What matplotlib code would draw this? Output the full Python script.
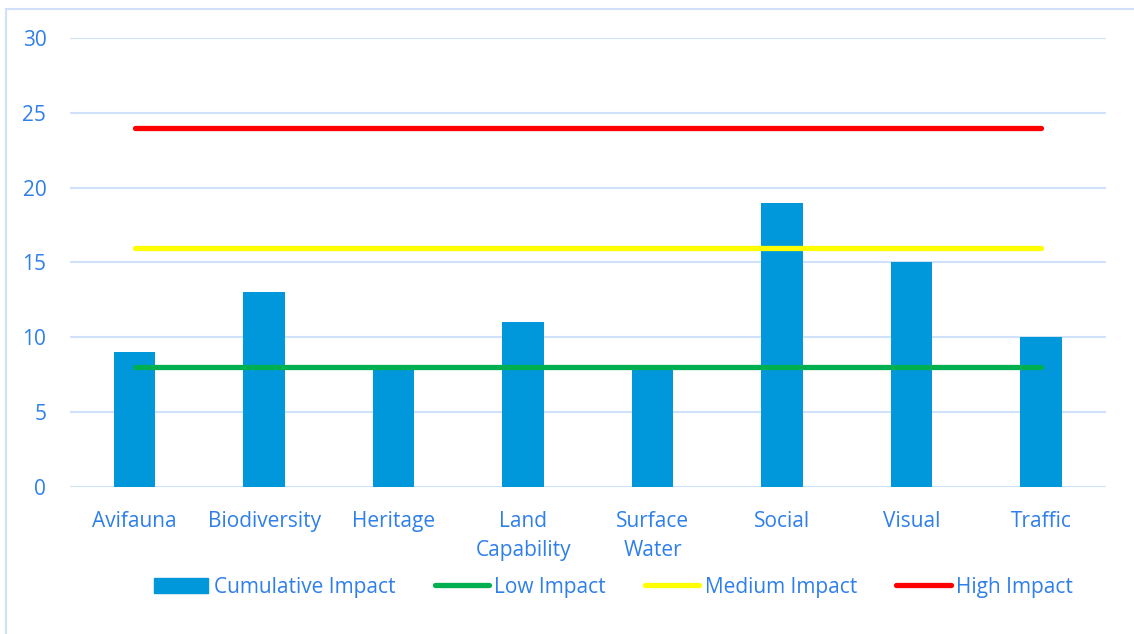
import matplotlib.pyplot as plt
import matplotlib.patches as mpatches
from matplotlib.lines import Line2D

plt.rcParams["font.family"] = ["Open Sans", "DejaVu Sans"]

# data
categories = ["Avifauna", "Biodiversity", "Heritage", "Land\nCapability",
              "Surface\nWater", "Social", "Visual", "Traffic"]
cumulative = [9, 13, 8, 11, 8, 19, 15, 10]
low_impact = 8
medium_impact = 16
high_impact = 24
yticks = [0, 5, 10, 15, 20, 25, 30]

txt_col = "#2F7FEA"
bar_col = "#0098DA"
grid_col = "#D0E2FA"

fig = plt.figure(figsize=(11.34, 6.34), dpi=100)
ax = fig.add_axes([0.0617, 0.232, 0.9133, 0.708])

# outer border of chart area
fig.patches.append(mpatches.Rectangle((6 / 1134, -0.01), 1.1, 1 - 9 / 634 + 0.01,
                                      transform=fig.transFigure, fill=False,
                                      edgecolor="#CFE0F8", linewidth=1.5))

x = range(len(categories))
ax.bar(x, cumulative, width=0.32, color=bar_col, zorder=2)
ax.plot([0, len(categories) - 1], [low_impact] * 2, color="#00B050", lw=3.8,
        solid_capstyle="round", zorder=3)
ax.plot([0, len(categories) - 1], [medium_impact] * 2, color="#FFFF00", lw=3.8,
        solid_capstyle="round", zorder=3)
ax.plot([0, len(categories) - 1], [high_impact] * 2, color="#FF0000", lw=3.8,
        solid_capstyle="round", zorder=3)

ax.set_xlim(-0.5, len(categories) - 0.5)
ax.set_ylim(0, 30)
ax.set_yticks(yticks)
ax.set_xticks(list(x))
ax.set_xticklabels(categories, linespacing=1.5)
ax.tick_params(axis="both", length=0, labelsize=15, labelcolor=txt_col)
ax.tick_params(axis="x", pad=17)
ax.tick_params(axis="y", pad=17)
ax.grid(axis="y", color=grid_col, lw=1.5, zorder=0)
for s in ax.spines.values():
    s.set_visible(False)

handles = [mpatches.Patch(color=bar_col),
           Line2D([], [], color="#00B050", lw=3.8, solid_capstyle="round"),
           Line2D([], [], color="#FFFF00", lw=3.8, solid_capstyle="round"),
           Line2D([], [], color="#FF0000", lw=3.8, solid_capstyle="round")]
labels = ["Cumulative Impact", "Low Impact", "Medium Impact", "High Impact"]
leg = fig.legend(handles, labels, loc="center", bbox_to_anchor=(0.541, 1 - 587 / 634),
                 ncol=4, frameon=False, fontsize=15, handlelength=2.6,
                 handletextpad=0.25, columnspacing=1.9, handleheight=0.7)
for t in leg.get_texts():
    t.set_color(txt_col)

fig.savefig("out.png", dpi=100)
